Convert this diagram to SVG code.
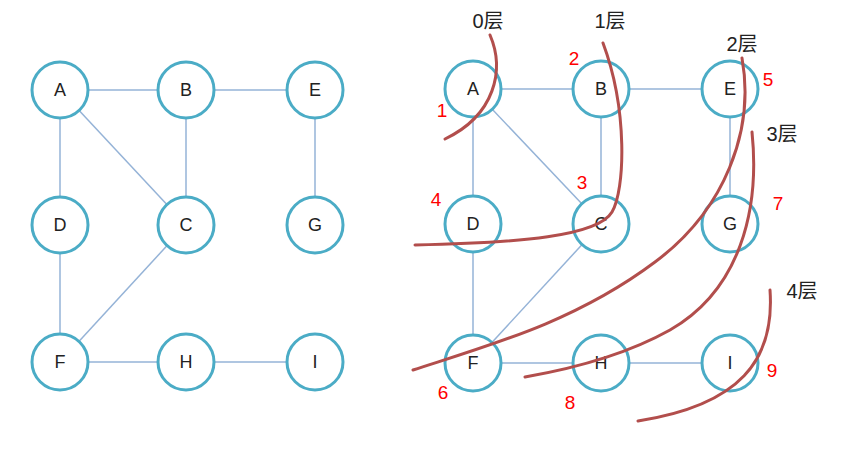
<svg xmlns="http://www.w3.org/2000/svg" width="858" height="453" viewBox="0 0 858 453">
<style>
.n circle{fill:#fff;stroke:#4bacc6;stroke-width:3}
.n text{font-family:"Liberation Sans",Arial,sans-serif;font-size:18px;fill:#222;text-anchor:middle;dominant-baseline:central}
.e line{stroke:#95b3d7;stroke-width:1.5}
.cut{fill:none;stroke:#b24e4c;stroke-width:3;stroke-linecap:round}
.lay{font-family:"Liberation Sans","Noto Sans CJK SC",sans-serif;font-size:20px;fill:#222;text-anchor:middle}
.num{font-family:"Liberation Sans",Arial,sans-serif;font-size:19px;fill:#f00;text-anchor:middle}
</style>
<rect width="858" height="453" fill="#fff"/>
<g id="edges" class="e">
<line x1="60" y1="90" x2="186" y2="90"/><line x1="186" y1="90" x2="315" y2="90"/>
<line x1="60" y1="90" x2="60" y2="225"/><line x1="60" y1="90" x2="186" y2="225"/>
<line x1="186" y1="90" x2="186" y2="225"/><line x1="315" y1="90" x2="315" y2="225"/>
<line x1="60" y1="225" x2="60" y2="362"/><line x1="186" y1="225" x2="60" y2="362"/>
<line x1="60" y1="362" x2="186" y2="362"/><line x1="186" y1="362" x2="315" y2="362"/>
<line x1="473" y1="89" x2="601" y2="89"/><line x1="601" y1="89" x2="730" y2="89"/>
<line x1="473" y1="89" x2="473" y2="224"/><line x1="473" y1="89" x2="601" y2="224"/>
<line x1="601" y1="89" x2="601" y2="224"/><line x1="730" y1="89" x2="730" y2="224"/>
<line x1="473" y1="224" x2="473" y2="363"/><line x1="601" y1="224" x2="473" y2="363"/>
<line x1="473" y1="363" x2="601" y2="363"/><line x1="601" y1="363" x2="730" y2="363"/>
</g>
<g id="L_A" class="n"><circle cx="60" cy="90" r="28"/><text x="60" y="90">A</text></g>
<g id="L_B" class="n"><circle cx="186" cy="90" r="28"/><text x="186" y="90">B</text></g>
<g id="L_E" class="n"><circle cx="315" cy="90" r="28"/><text x="315" y="90">E</text></g>
<g id="L_D" class="n"><circle cx="60" cy="225" r="28"/><text x="60" y="225">D</text></g>
<g id="L_C" class="n"><circle cx="186" cy="225" r="28"/><text x="186" y="225">C</text></g>
<g id="L_G" class="n"><circle cx="315" cy="225" r="28"/><text x="315" y="225">G</text></g>
<g id="L_F" class="n"><circle cx="60" cy="362" r="28"/><text x="60" y="362">F</text></g>
<g id="L_H" class="n"><circle cx="186" cy="362" r="28"/><text x="186" y="362">H</text></g>
<g id="L_I" class="n"><circle cx="315" cy="362" r="28"/><text x="315" y="362">I</text></g>
<g id="R_A" class="n"><circle cx="473" cy="89" r="28"/><text x="473" y="89">A</text></g>
<g id="R_B" class="n"><circle cx="601" cy="89" r="28"/><text x="601" y="89">B</text></g>
<g id="R_E" class="n"><circle cx="730" cy="89" r="28"/><text x="730" y="89">E</text></g>
<g id="R_D" class="n"><circle cx="473" cy="224" r="28"/><text x="473" y="224">D</text></g>
<g id="R_C" class="n"><circle cx="601" cy="224" r="28"/><text x="601" y="224">C</text></g>
<g id="R_G" class="n"><circle cx="730" cy="224" r="28"/><text x="730" y="224">G</text></g>
<g id="R_F" class="n"><circle cx="473" cy="363" r="28"/><text x="473" y="363">F</text></g>
<g id="R_H" class="n"><circle cx="601" cy="363" r="28"/><text x="601" y="363">H</text></g>
<g id="R_I" class="n"><circle cx="730" cy="363" r="28"/><text x="730" y="363">I</text></g>
<g id="cuts">
<path class="cut" d="M490,35 C505,70 495,115 445,139"/>
<path class="cut" d="M603,43 C628,110 625,190 612,212 C598,236 520,243 415,245"/>
<path class="cut" d="M742,58 C755,130 725,210 655,262 C575,322 490,345 413,370"/>
<path class="cut" d="M752,132 C760,210 740,290 670,330 C620,358 565,370 525,377"/>
<path class="cut" d="M770,290 C775,360 740,405 638,421"/>
</g>
<g id="labels">
<text class="lay" x="488" y="28">0层</text>
<text class="lay" x="610" y="28">1层</text>
<text class="lay" x="742" y="51">2层</text>
<text class="lay" x="782" y="141">3层</text>
<text class="lay" x="802" y="298">4层</text>
<text class="num" x="442" y="117">1</text>
<text class="num" x="574" y="65">2</text>
<text class="num" x="582" y="189">3</text>
<text class="num" x="436" y="206">4</text>
<text class="num" x="768" y="86">5</text>
<text class="num" x="443" y="399">6</text>
<text class="num" x="778" y="210">7</text>
<text class="num" x="570" y="409">8</text>
<text class="num" x="772" y="377">9</text>
</g>
</svg>
